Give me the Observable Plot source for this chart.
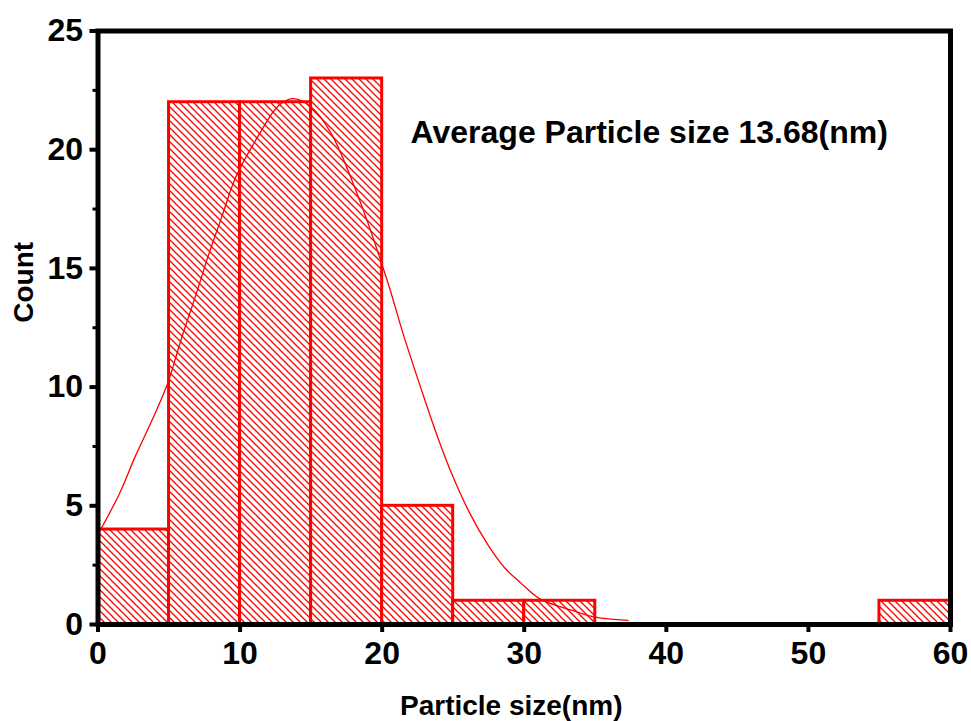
<!DOCTYPE html>
<html><head><meta charset="utf-8">
<script src="https://cdn.jsdelivr.net/npm/d3@7"></script>
<script src="https://cdn.jsdelivr.net/npm/@observablehq/plot@0.6"></script>
<style>body{margin:0;background:#fff}</style>
</head><body><div id="chart"></div>
<script>
// Histogram bins (nm) and counts
const binStart = [0, 5, 10, 15, 20, 25, 30, 55];
const binEnd   = [5, 10, 15, 20, 25, 30, 35, 60];
const counts   = [4, 22, 22, 23, 5, 1, 1, 1];

// Fitted distribution curve
const fitX = [0.0, 1.5, 2.6, 3.8, 4.9, 5.9, 6.9, 7.8, 8.7, 9.7, 11.3, 12.7, 13.7, 15.0, 16.4, 18.3, 20.35, 21.5, 22.7, 23.9, 25.0, 26.2, 27.4, 28.6, 29.7, 31.1, 33.4, 35.0, 37.3];
const fitY = [3.8, 5.5, 7.05, 8.6, 10.15, 12.1, 13.9, 15.6, 17.15, 18.85, 20.6, 21.85, 22.15, 21.8, 20.7, 18.05, 14.5, 12.2, 10.0, 7.9, 6.2, 4.65, 3.4, 2.4, 1.78, 1.08, 0.59, 0.31, 0.17];

// Axes
const xTicks = [0, 10, 20, 30, 40, 50, 60];
const yTicks = [0, 5, 10, 15, 20, 25];
const yMinorTicks = [2.5, 7.5, 12.5, 17.5, 22.5];
const xLabel = "Particle size(nm)";
const yLabel = "Count";
const annotation = [{x: 22.0, y: 20.3, text: "Average Particle size 13.68(nm)"}];

const bars = binStart.map((s, i) => ({x1: s, x2: binEnd[i], count: counts[i]}));
const fit = fitX.map((x, i) => ({x, y: fitY[i]}));

const font = "'Liberation Sans', Arial, sans-serif";

const chart = Plot.plot({
  width: 971,
  height: 721,
  marginLeft: 97.5,
  marginRight: 21,
  marginTop: 30.5,
  marginBottom: 97,
  style: {fontFamily: font, background: "white", color: "black"},
  x: {domain: [0, 60]},
  y: {domain: [0, 25]},
  marks: [
    Plot.rect(bars, {x1: "x1", x2: "x2", y1: 0, y2: "count", fill: "url(#hatch)", stroke: "red", strokeWidth: 3, inset: 0}),
    Plot.line(fit, {x: "x", y: "y", stroke: "red", strokeWidth: 1.3, curve: "catmull-rom"}),
    Plot.axisX(xTicks, {tickSize: 8, tickPadding: 9, fontSize: 32, fontWeight: "bold", strokeWidth: 4, label: null, tickFormat: d => String(d)}),
    Plot.axisY(yTicks, {tickSize: 8, tickPadding: 7, fontSize: 32, fontWeight: "bold", strokeWidth: 4, label: null, tickFormat: d => String(d)}),
    Plot.axisY(yMinorTicks, {tickSize: 5, strokeWidth: 3, label: null, tickFormat: () => ""}),
    Plot.text([yLabel], {text: d => d, frameAnchor: "left", dx: -73.5, dy: -5, rotate: -90, fontSize: 28, fontWeight: "bold"}),
    Plot.text([xLabel], {text: d => d, frameAnchor: "bottom", dx: -13, dy: 90, lineAnchor: "bottom", fontSize: 28, fontWeight: "bold"}),
    Plot.text(annotation, {x: "x", y: "y", text: "text", textAnchor: "start", lineAnchor: "bottom", fontSize: 32, fontWeight: "bold"}),
    Plot.frame({stroke: "black", strokeWidth: 5})
  ]
});

const defs = d3.select(chart).insert("defs", ":first-child");
const pat = defs.append("pattern").attr("id", "hatch").attr("patternUnits", "userSpaceOnUse").attr("width", 7).attr("height", 7);
pat.append("rect").attr("width", 7).attr("height", 7).attr("fill", "white");
pat.append("path").attr("d", "M-1,-1 L8,8 M-1,6 L1,8 M6,-1 L8,1").attr("stroke", "red").attr("stroke-width", 1.3).attr("fill", "none");

document.getElementById("chart").appendChild(chart);
</script>
</body></html>
